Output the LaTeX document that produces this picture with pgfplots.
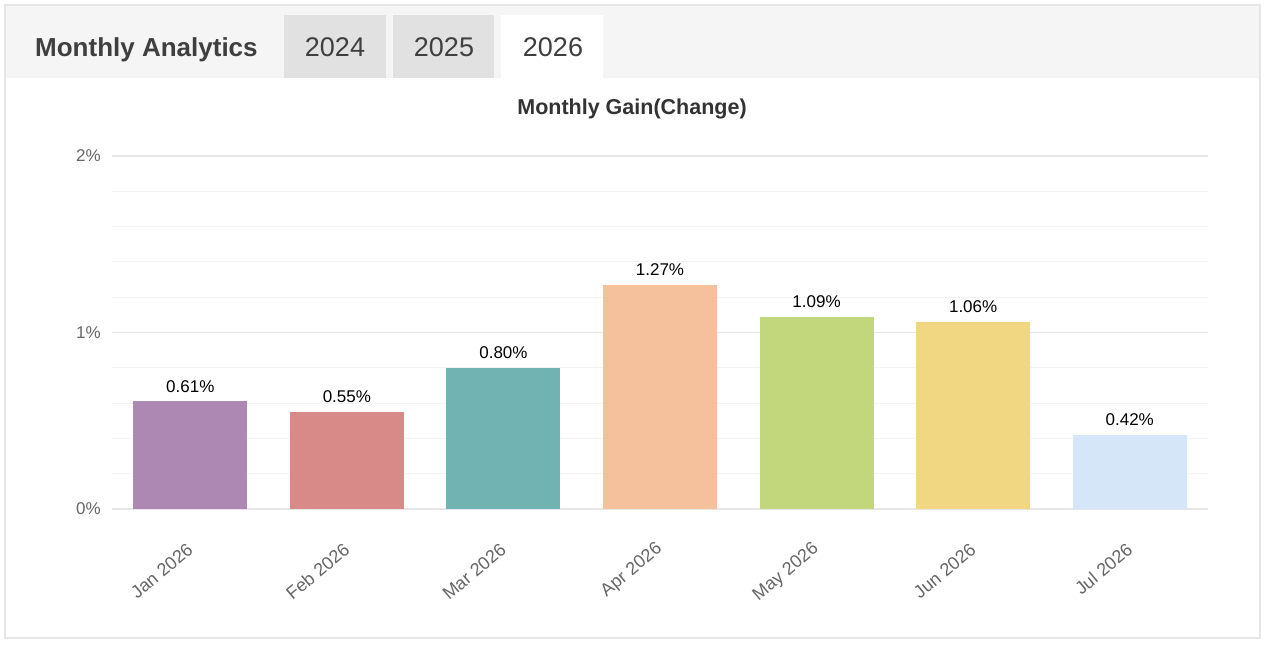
\documentclass[border=0pt]{standalone}
\usepackage{pgfplots}
\pgfplotsset{compat=1.18}
\usepackage{fontspec}
\setmainfont{Liberation Sans}

\definecolor{framegray}{HTML}{E6E6E6}
\definecolor{headbg}{HTML}{F5F5F5}
\definecolor{tabgray}{HTML}{E1E1E1}
\definecolor{headtext}{HTML}{3F3F3F}
\definecolor{ticktext}{HTML}{666666}
\definecolor{gridmajor}{HTML}{E6E6E6}
\definecolor{gridminor}{HTML}{F4F4F4}
\definecolor{cJan}{HTML}{AD88B2}
\definecolor{cFeb}{HTML}{D78A88}
\definecolor{cMar}{HTML}{71B3B2}
\definecolor{cApr}{HTML}{F5C19D}
\definecolor{cMay}{HTML}{C2D77B}
\definecolor{cJun}{HTML}{F2D783}
\definecolor{cJul}{HTML}{D5E6F8}

\begin{document}
\begin{tikzpicture}[x=1pt,y=1pt]
\useasboundingbox (0,0) rectangle (1266,646);
\fill[white] (0,0) rectangle (1266,646);

% panel frame and header band
\fill[headbg] (6,568) rectangle (1260,640);
\draw[framegray, line width=1.5pt] (5,8) rectangle (1260,641);

% year tabs
\fill[tabgray] (284,568) rectangle (386,631);
\fill[tabgray] (393,568) rectangle (494,631);
\fill[white]   (501,568) rectangle (603,631);

\node[anchor=base west, inner sep=0pt, text=headtext, font=\fontsize{26}{30}\selectfont\bfseries] at (35,589) {Monthly Analytics};
\node[anchor=base, inner sep=0pt, text=headtext, font=\fontsize{27}{30}\selectfont] at (335,589) {2024};
\node[anchor=base, inner sep=0pt, text=headtext, font=\fontsize{27}{30}\selectfont] at (444,589) {2025};
\node[anchor=base, inner sep=0pt, text=headtext, font=\fontsize{27}{30}\selectfont] at (553,589) {2026};

% chart title
\node[anchor=base, inner sep=0pt, text=black!80, font=\fontsize{21.5}{25}\selectfont\bfseries] at (632,531) {Monthly Gain(Change)};

\begin{axis}[
  at={(112pt,137pt)}, anchor=south west,
  scale only axis,
  width=1096pt, height=353pt,
  xmin=-0.5, xmax=6.5,
  ymin=0, ymax=2,
  ybar, bar width=114pt, bar shift=0pt,
  axis line style={draw=none},
  major tick length=0pt, minor tick length=0pt,
  /pgf/number format/assume math mode=true,
  xtick={0,1,2,3,4,5,6},
  xticklabels={Jan 2026,Feb 2026,Mar 2026,Apr 2026,May 2026,Jun 2026,Jul 2026},
  ytick={0,1,2},
  yticklabels={0\%,1\%,2\%},
  minor ytick={0.2,0.4,0.6,0.8,1.2,1.4,1.6,1.8},
  ymajorgrids, yminorgrids,
  major grid style={draw=gridmajor, line width=1.5pt},
  minor grid style={draw=gridminor, line width=1pt},
  yticklabel style={text=ticktext, font=\fontsize{17}{20}\selectfont, anchor=east, inner sep=0pt, xshift=-11pt},
  xticklabel style={text=ticktext, font=\fontsize{18}{21}\selectfont, rotate=40, anchor=east, inner sep=0pt},
  xticklabel shift=38pt,
  nodes near coords={\pgfmathprintnumber[fixed,fixed zerofill,precision=2]{\pgfplotspointmeta}\%},
  nodes near coords style={text=black, font=\fontsize{17}{20}\selectfont, anchor=base, inner sep=0pt, yshift=9pt},
  clip=false,
]
\addplot[fill=cJan, draw=none] coordinates {(0,0.61)};
\addplot[fill=cFeb, draw=none] coordinates {(1,0.55)};
\addplot[fill=cMar, draw=none] coordinates {(2,0.80)};
\addplot[fill=cApr, draw=none] coordinates {(3,1.27)};
\addplot[fill=cMay, draw=none] coordinates {(4,1.09)};
\addplot[fill=cJun, draw=none] coordinates {(5,1.06)};
\addplot[fill=cJul, draw=none] coordinates {(6,0.42)};
\end{axis}
\end{tikzpicture}
\end{document}
